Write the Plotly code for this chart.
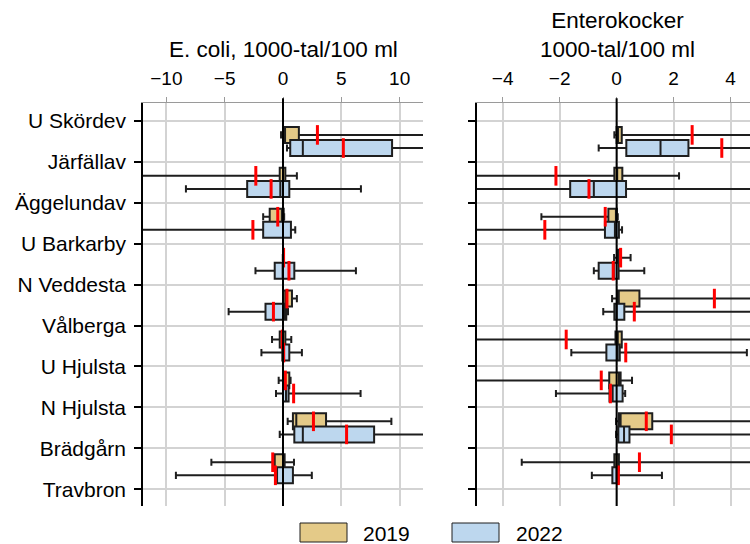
import plotly.graph_objects as go

# ---------------- data ----------------
sites = ["U Skördev", "Järfällav", "Äggelundav", "U Barkarby", "N Veddesta",
         "Vålberga", "U Hjulsta", "N Hjulsta", "Brädgårn", "Travbron"]
years = ["2019", "2022"]

# box groups (9 drawn groups between the 10 site ticks)
group_index = [0, 1, 2, 3, 4, 5, 6, 7, 8]

# E. coli, 1000-tal/100 ml
ec19_lf = [-0.17, -15, -1.7, -0.02, 0.0, -0.94, -0.37, 0.4, -6.14]
ec19_q1 = [0.09, -0.28, -1.14, 0.0, 0.06, -0.28, 0.06, 0.85, -0.71]
ec19_med = [0.15, 0.0, -0.1, 0.0, 0.26, 0.0, 0.14, 1.14, 0.0]
ec19_q3 = [1.36, 0.2, 0.06, 0.04, 0.77, 0.2, 0.54, 3.69, 0.14]
ec19_uf = [18, 1.19, 0.1, 0.08, 1.19, 0.71, 0.65, 9.29, 0.94]
ec19_mean = [2.95, -2.33, -0.45, 0.05, 0.34, -0.06, 0.2, 2.61, -0.88]

ec22_lf = [0.34, -8.32, -16, -2.36, -4.66, -1.85, -0.6, -0.28, -9.18]
ec22_q1 = [0.62, -3.07, -1.7, -0.71, -1.5, -0.06, 0.0, 0.97, -0.51]
ec22_med = [1.7, -0.23, 0.0, -0.03, 0.11, 0.06, 0.26, 1.7, 0.0]
ec22_q3 = [9.35, 0.54, 0.68, 0.97, 0.28, 0.54, 0.48, 7.81, 0.85]
ec22_uf = [16, 6.68, 1.05, 6.25, 0.43, 1.62, 6.65, 14, 2.47]
ec22_mean = [5.17, -1.02, -2.58, 0.51, -0.82, 0.06, 0.91, 5.45, -0.65]

# Enterokocker, 1000-tal/100 ml
en19_lf = [-0.08, -6, -2.64, -0.09, -0.16, -6, -6, -0.02, -3.33]
en19_q1 = [0.0, -0.08, -0.29, 0.03, 0.04, -0.04, -0.26, 0.08, -0.08]
en19_med = [0.05, 0.02, -0.01, 0.06, 0.07, 0.04, 0.08, 0.14, 0.0]
en19_q3 = [0.18, 0.2, 0.01, 0.15, 0.8, 0.18, 0.14, 1.25, 0.08]
en19_uf = [7, 2.19, 0.04, 0.49, 8, 6, 0.54, 6, 6]
en19_mean = [2.65, -2.13, -0.4, 0.14, 3.43, -1.77, -0.54, 1.04, 0.8]

en22_lf = [-0.63, -6, -6, -0.8, -0.47, -1.59, -2.13, -0.02, -0.87]
en22_q1 = [0.34, -1.63, -0.41, -0.63, -0.08, -0.36, -0.25, 0.06, -0.15]
en22_med = [1.54, -0.8, -0.06, -0.1, 0.0, 0.03, -0.14, 0.26, 0.0]
en22_q3 = [2.52, 0.33, 0.08, 0.07, 0.27, 0.11, 0.21, 0.45, 0.07]
en22_uf = [7, 6, 0.19, 0.97, 6, 4.57, 0.3, 6, 1.59]
en22_mean = [3.69, -0.97, -2.52, -0.12, 0.62, 0.32, -0.22, 1.92, 0.06]

ec_ticks = [-10, -5, 0, 5, 10]
en_ticks = [-4, -2, 0, 2, 4]

# ---------------- styling ----------------
FILL19 = "#E4CA88"
FILL22 = "#BDD7EE"
EDGE = "#1e1e1e"
RED = "#FF0000"
FONT = "Liberation Sans, Arial, sans-serif"
W, H = 750, 544
TOP, BOT = 103, 506

pos19 = [g + 0.34 for g in group_index]
pos22 = [g + 0.66 for g in group_index]

fig = go.Figure()


def add_panel(xa, ya, data19, data22):
    for pos, d, fill in ((pos19, data19, FILL19), (pos22, data22, FILL22)):
        lf, q1, med, q3, uf, mean = d
        fig.add_trace(go.Box(
            y=pos, q1=q1, median=med, q3=q3, lowerfence=lf, upperfence=uf,
            orientation="h", width=0.39, whiskerwidth=0.45,
            fillcolor=fill, line=dict(color=EDGE, width=2),
            xaxis=xa, yaxis=ya, showlegend=False, hoverinfo="skip",
        ))
        fig.add_trace(go.Scatter(
            x=mean, y=pos, mode="markers", xaxis=xa, yaxis=ya,
            marker=dict(symbol="line-ns", size=14,
                        line=dict(color=RED, width=3)),
            showlegend=False, hoverinfo="skip", cliponaxis=True,
        ))


add_panel("x", "y",
          (ec19_lf, ec19_q1, ec19_med, ec19_q3, ec19_uf, ec19_mean),
          (ec22_lf, ec22_q1, ec22_med, ec22_q3, ec22_uf, ec22_mean))
add_panel("x2", "y2",
          (en19_lf, en19_q1, en19_med, en19_q3, en19_uf, en19_mean),
          (en22_lf, en22_q1, en22_med, en22_q3, en22_uf, en22_mean))

xcommon = dict(side="top", showgrid=True, gridcolor="#d3d3d3", gridwidth=1.5,
               zeroline=False, showline=True, linecolor="#9a9a9a", linewidth=1,
               ticks="outside", ticklen=5, tickcolor="#9a9a9a", tickwidth=1,
               tickfont=dict(size=19, color="black", family=FONT),
               ticklabelstandoff=4, fixedrange=True)
ycommon = dict(range=[9.41, -0.44], tickvals=list(range(len(sites))),
               showgrid=True, gridcolor="#d3d3d3", gridwidth=1.5,
               zeroline=False, showline=True, linecolor="black", linewidth=1.5,
               ticks="outside", ticklen=7, tickcolor="black", tickwidth=1.5,
               fixedrange=True)

fig.update_layout(
    width=W, height=H,
    margin=dict(l=0, r=0, t=TOP, b=H - BOT),
    paper_bgcolor="white", plot_bgcolor="white",
    boxmode="overlay",
    font=dict(family=FONT, color="black"),
    xaxis=dict(domain=[143 / W, 423 / W], range=[-12, 12],
               tickvals=ec_ticks, anchor="y", **xcommon),
    xaxis2=dict(domain=[477 / W, 1.0], range=[-4.9, 4.68],
                tickvals=en_ticks, anchor="y2", **xcommon),
    yaxis=dict(domain=[0, 1], anchor="x", ticktext=sites,
               tickfont=dict(size=21, color="black", family=FONT),
               ticklabelstandoff=4, **ycommon),
    yaxis2=dict(domain=[0, 1], anchor="x2", showticklabels=False, **ycommon),
)

# zero reference lines on top of the boxes
for xr, yr in (("x", "y domain"), ("x2", "y2 domain")):
    fig.add_shape(type="line", xref=xr, yref=yr, x0=0, x1=0, y0=0, y1=1.012,
                  line=dict(color="black", width=2), layer="above")

# panel titles
def py(v):
    return (BOT - v) / (BOT - TOP)

fig.add_annotation(text="E. coli, 1000-tal/100 ml", xref="paper", yref="paper",
                   x=283 / W, y=py(49), xanchor="center", yanchor="middle",
                   showarrow=False, font=dict(size=22.5, family=FONT))
fig.add_annotation(text="Enterokocker<br>1000-tal/100 ml", xref="paper", yref="paper",
                   x=617 / W, y=py(35), xanchor="center", yanchor="middle",
                   showarrow=False, font=dict(size=22.5, family=FONT))

# legend
for (x0, x1, tx), lab, fill in (((300, 347, 361), years[0], FILL19),
                                 ((452, 499, 514), years[1], FILL22)):
    fig.add_shape(type="rect", xref="paper", yref="paper",
                  x0=x0 / W, x1=x1 / W, y0=py(523), y1=py(542),
                  fillcolor=fill, line=dict(color=EDGE, width=1))
    fig.add_annotation(text=lab, xref="paper", yref="paper", x=tx / W, y=py(533),
                       xanchor="left", yanchor="middle", showarrow=False,
                       font=dict(size=21, family=FONT))

fig.write_html("out.html")
